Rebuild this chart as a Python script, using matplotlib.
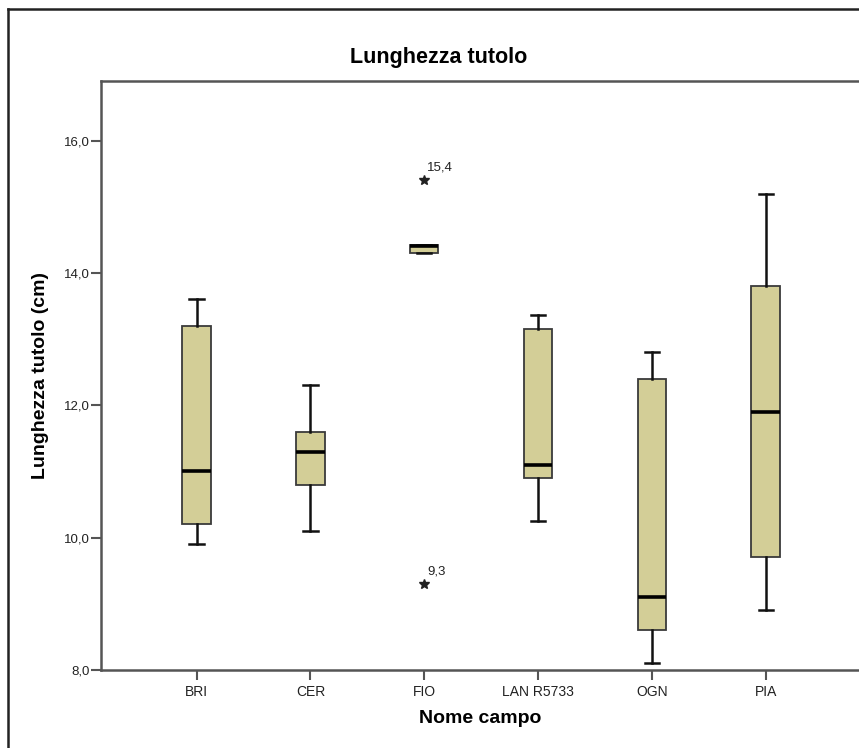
import matplotlib.pyplot as plt
from matplotlib.lines import Line2D

plt.rcParams['font.family'] = ['Liberation Sans', 'DejaVu Sans']

# data
campi = ['BRI', 'CER', 'FIO', 'LAN R5733', 'OGN', 'PIA']
whisk_lo = [9.9, 10.1, 14.3, 10.25, 8.1, 8.9]
q1 = [10.2, 10.8, 14.3, 10.9, 8.6, 9.7]
mediana = [11.0, 11.3, 14.4, 11.1, 9.1, 11.9]
q3 = [13.2, 11.6, 14.42, 13.16, 12.4, 13.8]
whisk_hi = [13.6, 12.3, 14.42, 13.36, 12.8, 15.2]
outliers = [[], [], [15.4, 9.3], [], [], []]

stats = []
for i, nome in enumerate(campi):
    stats.append({
        'label': nome,
        'whislo': whisk_lo[i],
        'q1': q1[i],
        'med': mediana[i],
        'q3': q3[i],
        'whishi': whisk_hi[i],
        'fliers': outliers[i],
    })

fig = plt.figure(figsize=(8.59, 7.48), dpi=100)
ax = fig.add_axes([101 / 859, 1 - 670 / 748, 1 - 101 / 859, (670 - 81) / 748])

ax.bxp(stats, positions=range(len(campi)), widths=0.25, patch_artist=True,
       showfliers=False,
       boxprops=dict(facecolor='#d3ce97', edgecolor='#3a3a3a', linewidth=1.3),
       medianprops=dict(color='black', linewidth=2.6),
       whiskerprops=dict(color='#111111', linewidth=1.8),
       capprops=dict(color='#111111', linewidth=1.8),
       capwidths=0.125)

# extreme values shown as stars with their value
for i, vals in enumerate(outliers):
    for v in vals:
        ax.plot(i, v, marker='*', color='#222222', markersize=7, linestyle='none')
        ax.annotate(f'{v:.1f}'.replace('.', ','), (i, v), xytext=(2, 5),
                    textcoords='offset points', fontsize=9.5, color='#222222',
                    ha='left', va='bottom')

ax.set_xlim(-0.84, 5.82)
ax.set_ylim(8.0, 16.9)
ax.set_yticks([8, 10, 12, 14, 16])
ax.set_yticklabels(['8,0', '10,0', '12,0', '14,0', '16,0'])
ax.set_xticks(range(len(campi)))
ax.set_xticklabels(campi)

ax.tick_params(axis='y', direction='out', length=7, width=1.5, color='#555555',
               labelsize=9.5, labelcolor='#222222', pad=1)
ax.tick_params(axis='x', direction='out', length=7, width=1.5, color='#555555',
               labelsize=10, labelcolor='#222222', pad=4)

for side in ['left', 'bottom', 'top']:
    ax.spines[side].set_color('#555555')
    ax.spines[side].set_linewidth(1.8)
ax.spines['right'].set_visible(False)

ax.set_xlabel('Nome campo', fontsize=14, fontweight='bold', labelpad=8)
ax.set_ylabel('Lunghezza tutolo (cm)', fontsize=14, fontweight='bold', labelpad=11)
fig.text(439 / 859, 1 - 58 / 748, 'Lunghezza tutolo', ha='center', va='center',
         fontsize=15.5, fontweight='bold')

# outer chart frame (cropped on the right and bottom)
fig.add_artist(Line2D([7.5 / 859, 7.5 / 859], [0, 1 - 8.5 / 748],
                      transform=fig.transFigure, color='#222222', linewidth=1.8))
fig.add_artist(Line2D([7.5 / 859, 1], [1 - 8.5 / 748, 1 - 8.5 / 748],
                      transform=fig.transFigure, color='#222222', linewidth=1.8))

fig.savefig('out.png', dpi=100)
